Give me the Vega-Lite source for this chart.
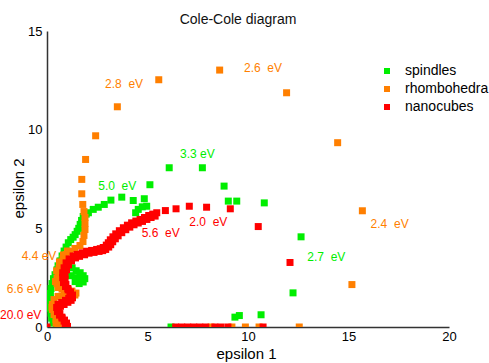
{
  "$schema": "https://vega.github.io/schema/vega-lite/v6.json",
  "width": 402,
  "height": 296,
  "autosize": {"type": "none"},
  "padding": {"left": 47, "top": 31, "right": 40, "bottom": 36},
  "background": "white",
  "title": {"text": "Cole-Cole diagram", "font": "Liberation Sans", "fontSize": 14, "fontWeight": "normal", "color": "#111", "anchor": "middle", "frame": "group", "dx": -10, "dy": 2, "offset": 0},
  "config": {"view": {"stroke": null}, "font": "Liberation Sans"},
  "datasets": {
    "pts": [
      {"s": "spindles", "e1": 0.48, "e2": 0},
      {"s": "spindles", "e1": 0.3, "e2": 0.2},
      {"s": "spindles", "e1": 0.23, "e2": 0.45},
      {"s": "spindles", "e1": 0.2, "e2": 0.7},
      {"s": "spindles", "e1": 0.17, "e2": 0.95},
      {"s": "spindles", "e1": 0.15, "e2": 1.2},
      {"s": "spindles", "e1": 0.15, "e2": 1.45},
      {"s": "spindles", "e1": 0.17, "e2": 1.7},
      {"s": "spindles", "e1": 0.2, "e2": 1.95},
      {"s": "spindles", "e1": 0.25, "e2": 2.2},
      {"s": "spindles", "e1": 0.32, "e2": 2.45},
      {"s": "spindles", "e1": 0.4, "e2": 2.65},
      {"s": "spindles", "e1": 0.5, "e2": 2.9},
      {"s": "spindles", "e1": 1.05, "e2": 3.15},
      {"s": "spindles", "e1": 1.25, "e2": 3.0},
      {"s": "spindles", "e1": 1.45, "e2": 2.85},
      {"s": "spindles", "e1": 1.65, "e2": 2.75},
      {"s": "spindles", "e1": 1.8, "e2": 2.6},
      {"s": "spindles", "e1": 1.88, "e2": 2.45},
      {"s": "spindles", "e1": 1.8, "e2": 2.28},
      {"s": "spindles", "e1": 1.6, "e2": 2.2},
      {"s": "spindles", "e1": 1.4, "e2": 2.3},
      {"s": "spindles", "e1": 1.5, "e2": 2.5},
      {"s": "spindles", "e1": 1.65, "e2": 2.5},
      {"s": "spindles", "e1": 1.2, "e2": 2.6},
      {"s": "spindles", "e1": 0.55, "e2": 3.1},
      {"s": "spindles", "e1": 0.65, "e2": 3.35},
      {"s": "spindles", "e1": 0.75, "e2": 3.6},
      {"s": "spindles", "e1": 0.85, "e2": 3.85},
      {"s": "spindles", "e1": 0.95, "e2": 4.05},
      {"s": "spindles", "e1": 1.06, "e2": 4.27},
      {"s": "spindles", "e1": 1.18, "e2": 4.43},
      {"s": "spindles", "e1": 1.3, "e2": 4.55},
      {"s": "spindles", "e1": 1.4, "e2": 4.68},
      {"s": "spindles", "e1": 1.5, "e2": 4.85},
      {"s": "spindles", "e1": 1.58, "e2": 5.0},
      {"s": "spindles", "e1": 1.65, "e2": 5.2},
      {"s": "spindles", "e1": 1.72, "e2": 5.4},
      {"s": "spindles", "e1": 1.8, "e2": 5.6},
      {"s": "spindles", "e1": 1.95, "e2": 5.72},
      {"s": "spindles", "e1": 2.06, "e2": 5.79},
      {"s": "spindles", "e1": 2.3, "e2": 5.96},
      {"s": "spindles", "e1": 2.55, "e2": 6.07},
      {"s": "spindles", "e1": 2.85, "e2": 6.21},
      {"s": "spindles", "e1": 3.18, "e2": 6.43},
      {"s": "spindles", "e1": 3.72, "e2": 6.58},
      {"s": "spindles", "e1": 4.29, "e2": 6.41},
      {"s": "spindles", "e1": 4.84, "e2": 6.5},
      {"s": "spindles", "e1": 4.96, "e2": 6.12},
      {"s": "spindles", "e1": 4.74, "e2": 6.09},
      {"s": "spindles", "e1": 4.54, "e2": 5.96},
      {"s": "spindles", "e1": 4.41, "e2": 5.79},
      {"s": "spindles", "e1": 5.12, "e2": 7.21},
      {"s": "spindles", "e1": 6.08, "e2": 8.07},
      {"s": "spindles", "e1": 7.73, "e2": 8.07},
      {"s": "spindles", "e1": 8.81, "e2": 7.14},
      {"s": "spindles", "e1": 9.02, "e2": 6.38},
      {"s": "spindles", "e1": 9.44, "e2": 6.38},
      {"s": "spindles", "e1": 10.81, "e2": 6.29},
      {"s": "spindles", "e1": 12.64, "e2": 4.57},
      {"s": "spindles", "e1": 12.24, "e2": 1.73},
      {"s": "spindles", "e1": 10.65, "e2": 0.62},
      {"s": "spindles", "e1": 9.57, "e2": 0.58},
      {"s": "spindles", "e1": 9.35, "e2": 0.5},
      {"s": "spindles", "e1": 6.17, "e2": 0},

      {"s": "rhombohedra", "e1": 0.55, "e2": 0},
      {"s": "rhombohedra", "e1": 0.55, "e2": 0.13},
      {"s": "rhombohedra", "e1": 0.45, "e2": 0.38},
      {"s": "rhombohedra", "e1": 0.35, "e2": 0.63},
      {"s": "rhombohedra", "e1": 0.27, "e2": 0.89},
      {"s": "rhombohedra", "e1": 0.27, "e2": 1.14},
      {"s": "rhombohedra", "e1": 0.35, "e2": 1.39},
      {"s": "rhombohedra", "e1": 0.55, "e2": 1.55},
      {"s": "rhombohedra", "e1": 0.85, "e2": 1.6},
      {"s": "rhombohedra", "e1": 1.14, "e2": 1.6},
      {"s": "rhombohedra", "e1": 1.39, "e2": 1.62},
      {"s": "rhombohedra", "e1": 1.44, "e2": 1.72},
      {"s": "rhombohedra", "e1": 1.24, "e2": 1.82},
      {"s": "rhombohedra", "e1": 1.0, "e2": 1.87},
      {"s": "rhombohedra", "e1": 0.75, "e2": 1.92},
      {"s": "rhombohedra", "e1": 0.55, "e2": 2.0},
      {"s": "rhombohedra", "e1": 0.5, "e2": 2.2},
      {"s": "rhombohedra", "e1": 0.5, "e2": 2.46},
      {"s": "rhombohedra", "e1": 0.55, "e2": 2.71},
      {"s": "rhombohedra", "e1": 0.6, "e2": 2.97},
      {"s": "rhombohedra", "e1": 0.7, "e2": 3.22},
      {"s": "rhombohedra", "e1": 0.8, "e2": 3.47},
      {"s": "rhombohedra", "e1": 0.95, "e2": 3.67},
      {"s": "rhombohedra", "e1": 1.14, "e2": 3.83},
      {"s": "rhombohedra", "e1": 1.39, "e2": 3.98},
      {"s": "rhombohedra", "e1": 1.64, "e2": 4.13},
      {"s": "rhombohedra", "e1": 1.79, "e2": 4.33},
      {"s": "rhombohedra", "e1": 1.84, "e2": 4.64},
      {"s": "rhombohedra", "e1": 1.89, "e2": 4.94},
      {"s": "rhombohedra", "e1": 1.89, "e2": 5.25},
      {"s": "rhombohedra", "e1": 1.89, "e2": 5.55},
      {"s": "rhombohedra", "e1": 1.84, "e2": 5.85},
      {"s": "rhombohedra", "e1": 0.45, "e2": 0.2},
      {"s": "rhombohedra", "e1": 0.25, "e2": 1.0},
      {"s": "rhombohedra", "e1": 0.42, "e2": 2.3},
      {"s": "rhombohedra", "e1": 0.48, "e2": 2.85},
      {"s": "rhombohedra", "e1": 0.62, "e2": 3.3},
      {"s": "rhombohedra", "e1": 0.82, "e2": 3.65},
      {"s": "rhombohedra", "e1": 1.02, "e2": 3.85},
      {"s": "rhombohedra", "e1": 1.78, "e2": 6.21},
      {"s": "rhombohedra", "e1": 1.73, "e2": 6.75},
      {"s": "rhombohedra", "e1": 1.73, "e2": 7.48},
      {"s": "rhombohedra", "e1": 1.92, "e2": 8.49},
      {"s": "rhombohedra", "e1": 2.42, "e2": 9.69},
      {"s": "rhombohedra", "e1": 3.5, "e2": 11.16},
      {"s": "rhombohedra", "e1": 5.56, "e2": 12.53},
      {"s": "rhombohedra", "e1": 8.59, "e2": 13.02},
      {"s": "rhombohedra", "e1": 11.92, "e2": 11.87},
      {"s": "rhombohedra", "e1": 14.46, "e2": 9.34},
      {"s": "rhombohedra", "e1": 15.69, "e2": 5.89},
      {"s": "rhombohedra", "e1": 15.17, "e2": 2.15},
      {"s": "rhombohedra", "e1": 12.55, "e2": 0},
      {"s": "rhombohedra", "e1": 10.55, "e2": 0},
      {"s": "rhombohedra", "e1": 9.87, "e2": 0},
      {"s": "rhombohedra", "e1": 9.2, "e2": 0},
      {"s": "rhombohedra", "e1": 8.16, "e2": 0},

      {"s": "nanocubes", "e1": 0, "e2": 0},
      {"s": "nanocubes", "e1": 0.9, "e2": 0.13},
      {"s": "nanocubes", "e1": 0.85, "e2": 0.3},
      {"s": "nanocubes", "e1": 0.75, "e2": 0.45},
      {"s": "nanocubes", "e1": 0.62, "e2": 0.6},
      {"s": "nanocubes", "e1": 0.52, "e2": 0.78},
      {"s": "nanocubes", "e1": 0.48, "e2": 0.99},
      {"s": "nanocubes", "e1": 0.55, "e2": 1.15},
      {"s": "nanocubes", "e1": 0.73, "e2": 1.24},
      {"s": "nanocubes", "e1": 0.92, "e2": 1.35},
      {"s": "nanocubes", "e1": 1.08, "e2": 1.45},
      {"s": "nanocubes", "e1": 1.15, "e2": 1.58},
      {"s": "nanocubes", "e1": 1.15, "e2": 1.72},
      {"s": "nanocubes", "e1": 1.05, "e2": 1.88},
      {"s": "nanocubes", "e1": 0.92, "e2": 2.05},
      {"s": "nanocubes", "e1": 0.82, "e2": 2.25},
      {"s": "nanocubes", "e1": 0.78, "e2": 2.5},
      {"s": "nanocubes", "e1": 0.78, "e2": 2.75},
      {"s": "nanocubes", "e1": 0.85, "e2": 3.0},
      {"s": "nanocubes", "e1": 0.95, "e2": 3.25},
      {"s": "nanocubes", "e1": 1.1, "e2": 3.45},
      {"s": "nanocubes", "e1": 1.3, "e2": 3.6},
      {"s": "nanocubes", "e1": 1.5, "e2": 3.68},
      {"s": "nanocubes", "e1": 1.75, "e2": 3.76},
      {"s": "nanocubes", "e1": 1.97, "e2": 3.84},
      {"s": "nanocubes", "e1": 2.22, "e2": 3.88},
      {"s": "nanocubes", "e1": 2.47, "e2": 3.93},
      {"s": "nanocubes", "e1": 2.65, "e2": 3.97},
      {"s": "nanocubes", "e1": 2.8, "e2": 4.03},
      {"s": "nanocubes", "e1": 2.95, "e2": 4.15},
      {"s": "nanocubes", "e1": 3.05, "e2": 4.27},
      {"s": "nanocubes", "e1": 3.15, "e2": 4.42},
      {"s": "nanocubes", "e1": 3.28, "e2": 4.57},
      {"s": "nanocubes", "e1": 3.42, "e2": 4.72},
      {"s": "nanocubes", "e1": 3.6, "e2": 4.88},
      {"s": "nanocubes", "e1": 3.8, "e2": 5.03},
      {"s": "nanocubes", "e1": 4.0, "e2": 5.16},
      {"s": "nanocubes", "e1": 4.21, "e2": 5.28},
      {"s": "nanocubes", "e1": 4.42, "e2": 5.37},
      {"s": "nanocubes", "e1": 4.63, "e2": 5.45},
      {"s": "nanocubes", "e1": 4.85, "e2": 5.55},
      {"s": "nanocubes", "e1": 5.06, "e2": 5.65},
      {"s": "nanocubes", "e1": 5.26, "e2": 5.72},
      {"s": "nanocubes", "e1": 5.46, "e2": 5.79},
      {"s": "nanocubes", "e1": 1.02, "e2": 0.03},
      {"s": "nanocubes", "e1": 0.97, "e2": 0.2},
      {"s": "nanocubes", "e1": 0.87, "e2": 0.35},
      {"s": "nanocubes", "e1": 0.74, "e2": 0.5},
      {"s": "nanocubes", "e1": 0.64, "e2": 0.68},
      {"s": "nanocubes", "e1": 0.6, "e2": 0.89},
      {"s": "nanocubes", "e1": 0.67, "e2": 1.05},
      {"s": "nanocubes", "e1": 0.85, "e2": 1.14},
      {"s": "nanocubes", "e1": 1.04, "e2": 1.25},
      {"s": "nanocubes", "e1": 1.2, "e2": 1.35},
      {"s": "nanocubes", "e1": 1.27, "e2": 1.48},
      {"s": "nanocubes", "e1": 1.27, "e2": 1.62},
      {"s": "nanocubes", "e1": 1.17, "e2": 1.78},
      {"s": "nanocubes", "e1": 1.04, "e2": 1.95},
      {"s": "nanocubes", "e1": 0.94, "e2": 2.15},
      {"s": "nanocubes", "e1": 0.9, "e2": 2.4},
      {"s": "nanocubes", "e1": 0.9, "e2": 2.65},
      {"s": "nanocubes", "e1": 0.97, "e2": 2.9},
      {"s": "nanocubes", "e1": 1.07, "e2": 3.15},
      {"s": "nanocubes", "e1": 1.22, "e2": 3.35},
      {"s": "nanocubes", "e1": 1.42, "e2": 3.5},
      {"s": "nanocubes", "e1": 1.62, "e2": 3.58},
      {"s": "nanocubes", "e1": 1.87, "e2": 3.66},
      {"s": "nanocubes", "e1": 2.09, "e2": 3.74},
      {"s": "nanocubes", "e1": 2.34, "e2": 3.78},
      {"s": "nanocubes", "e1": 2.59, "e2": 3.83},
      {"s": "nanocubes", "e1": 2.77, "e2": 3.87},
      {"s": "nanocubes", "e1": 2.92, "e2": 3.93},
      {"s": "nanocubes", "e1": 3.07, "e2": 4.05},
      {"s": "nanocubes", "e1": 3.17, "e2": 4.17},
      {"s": "nanocubes", "e1": 3.27, "e2": 4.32},
      {"s": "nanocubes", "e1": 3.4, "e2": 4.47},
      {"s": "nanocubes", "e1": 3.54, "e2": 4.62},
      {"s": "nanocubes", "e1": 3.72, "e2": 4.78},
      {"s": "nanocubes", "e1": 3.92, "e2": 4.93},
      {"s": "nanocubes", "e1": 4.12, "e2": 5.06},
      {"s": "nanocubes", "e1": 4.33, "e2": 5.18},
      {"s": "nanocubes", "e1": 4.54, "e2": 5.27},
      {"s": "nanocubes", "e1": 4.75, "e2": 5.35},
      {"s": "nanocubes", "e1": 4.97, "e2": 5.45},
      {"s": "nanocubes", "e1": 5.18, "e2": 5.55},
      {"s": "nanocubes", "e1": 5.38, "e2": 5.62},
      {"s": "nanocubes", "e1": 5.89, "e2": 5.9},
      {"s": "nanocubes", "e1": 6.42, "e2": 5.99},
      {"s": "nanocubes", "e1": 7.08, "e2": 6.12},
      {"s": "nanocubes", "e1": 7.94, "e2": 6.07},
      {"s": "nanocubes", "e1": 9.12, "e2": 5.99},
      {"s": "nanocubes", "e1": 10.51, "e2": 5.09},
      {"s": "nanocubes", "e1": 12.09, "e2": 3.27},
      {"s": "nanocubes", "e1": 10.75, "e2": 0},
      {"s": "nanocubes", "e1": 9.0, "e2": 0},
      {"s": "nanocubes", "e1": 8.65, "e2": 0},
      {"s": "nanocubes", "e1": 8.35, "e2": 0},
      {"s": "nanocubes", "e1": 7.9, "e2": 0},
      {"s": "nanocubes", "e1": 7.6, "e2": 0},
      {"s": "nanocubes", "e1": 7.3, "e2": 0},
      {"s": "nanocubes", "e1": 7.0, "e2": 0},
      {"s": "nanocubes", "e1": 6.7, "e2": 0},
      {"s": "nanocubes", "e1": 6.4, "e2": 0}
    ],
    "labels": [
      {"s": "rhombohedra", "t": "2.8\u00a0\u00a0eV", "e1": 2.89, "e2": 12.29},
      {"s": "rhombohedra", "t": "2.6\u00a0\u00a0eV", "e1": 9.8, "e2": 13.14},
      {"s": "spindles", "t": "3.3 eV", "e1": 6.62, "e2": 8.79},
      {"s": "spindles", "t": "5.0\u00a0\u00a0eV", "e1": 2.55, "e2": 7.14},
      {"s": "nanocubes", "t": "5.6\u00a0\u00a0eV", "e1": 4.71, "e2": 4.77},
      {"s": "nanocubes", "t": "2.0\u00a0\u00a0eV", "e1": 7.08, "e2": 5.33},
      {"s": "spindles", "t": "2.7\u00a0\u00a0eV", "e1": 12.95, "e2": 3.54},
      {"s": "rhombohedra", "t": "2.4\u00a0\u00a0eV", "e1": 16.1, "e2": 5.23},
      {"s": "rhombohedra", "t": "4.4 eV", "e1": -1.26, "e2": 3.59},
      {"s": "rhombohedra", "t": "6.6 eV", "e1": -2.0, "e2": 1.94},
      {"s": "nanocubes", "t": "20.0 eV", "e1": -2.34, "e2": 0.61}
    ]
  },
  "layer": [
    {
      "data": {"name": "pts"},
      "mark": {"type": "square", "size": 49, "opacity": 1, "clip": true},
      "encoding": {
        "x": {"field": "e1", "type": "quantitative", "scale": {"domain": [0, 20], "nice": false, "zero": false},
          "axis": {"values": [0, 5, 10, 15, 20], "grid": false, "ticks": false, "labelPadding": 3, "labelFontSize": 13, "labelColor": "#000", "labelFont": "Liberation Sans", "domainColor": "#333", "domainWidth": 1.5, "title": "epsilon 1", "titleFontSize": 15, "titleFontWeight": "normal", "titleColor": "#000", "titleFont": "Liberation Sans", "titleX": 199, "titleY": 26, "titleBaseline": "middle", "titleAlign": "center", "labelFlush": false}},
        "y": {"field": "e2", "type": "quantitative", "scale": {"domain": [0, 15], "nice": false, "zero": false},
          "axis": {"values": [0, 5, 10, 15], "grid": false, "ticks": false, "labelPadding": 5, "labelFontSize": 13, "labelColor": "#000", "labelFont": "Liberation Sans", "domainColor": "#333", "domainWidth": 1.5, "title": "epsilon 2", "titleFontSize": 15, "titleFontWeight": "normal", "titleColor": "#000", "titleFont": "Liberation Sans", "titleX": -29, "titleY": 157, "titleBaseline": "middle", "titleAlign": "center", "titleAngle": -90, "labelFlush": false}},
        "color": {"field": "s", "type": "nominal",
          "scale": {"domain": ["spindles", "rhombohedra", "nanocubes"], "range": ["#00ee00", "#ff7f00", "#ff0000"]},
          "legend": {"title": null, "orient": "none", "legendX": 333, "legendY": 33, "symbolType": "square", "symbolSize": 36, "symbolOpacity": 1, "labelFontSize": 14, "labelFont": "Liberation Sans", "labelColor": "#000", "labelOffset": 11, "rowPadding": 4, "padding": 0}}
      }
    },
    {
      "data": {"name": "labels"},
      "mark": {"type": "text", "align": "left", "baseline": "middle", "fontSize": 12, "font": "Liberation Sans"},
      "encoding": {
        "x": {"field": "e1", "type": "quantitative"},
        "y": {"field": "e2", "type": "quantitative"},
        "text": {"field": "t"},
        "color": {"field": "s", "type": "nominal"}
      }
    }
  ]
}
